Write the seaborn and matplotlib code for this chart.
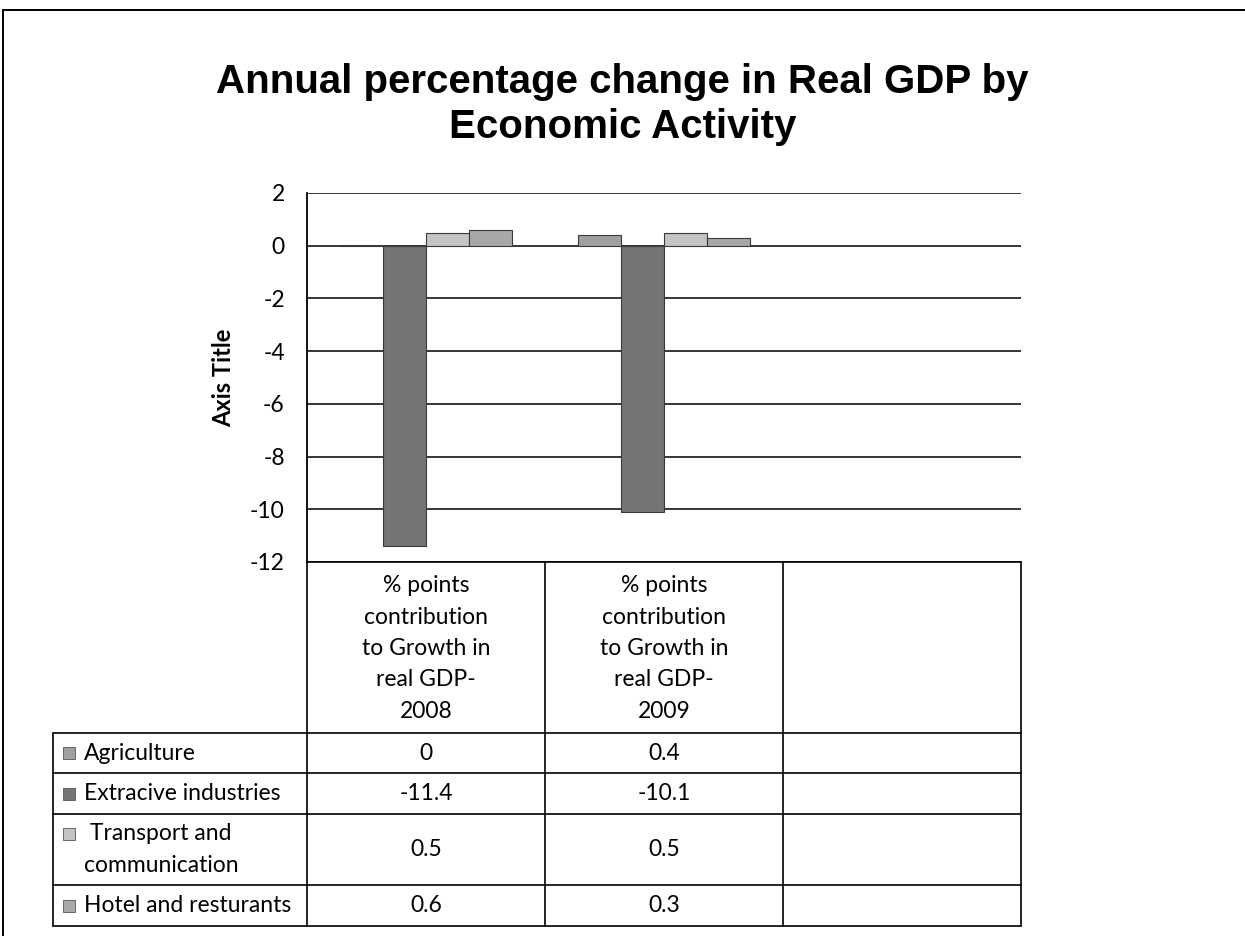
import numpy as np
import pandas as pd
import matplotlib
matplotlib.use("Agg")
import matplotlib.pyplot as plt
from matplotlib.lines import Line2D
from matplotlib.patches import Rectangle
import seaborn as sns

# ---- data -------------------------------------------------------------
sectors = ["Agriculture", "Extracive industries",
           "Transport and communication", "Hotel and resturants"]
sector_labels = ["Agriculture", "Extracive industries",
                 " Transport and\ncommunication", "Hotel and resturants"]
periods = ["% points contribution to Growth in real GDP-2008",
           "% points contribution to Growth in real GDP-2009"]
period_headers = [["% points", "contribution", "to Growth in", "real GDP-", "2008"],
                  ["% points", "contribution", "to Growth in", "real GDP-", "2009"]]
values_2008 = [0, -11.4, 0.5, 0.6]
values_2009 = [0.4, -10.1, 0.5, 0.3]
y_ticks = [2, 0, -2, -4, -6, -8, -10, -12]

colors = ["#a0a0a0", "#757575", "#c4c4c4", "#a8a8a8"]

df = pd.DataFrame({
    "period": [periods[0]] * 4 + [periods[1]] * 4,
    "sector": sectors * 2,
    "value": values_2008 + values_2009,
})

# ---- figure -----------------------------------------------------------
sns.set_theme(style="white")
plt.rcParams["font.family"] = ["Lato", "DejaVu Sans"]
plt.rcParams.update({"text.color": "black", "axes.labelcolor": "black",
                     "xtick.color": "black", "ytick.color": "black"})
FS = 16.5

W, H = 1245, 936
fig = plt.figure(figsize=(W / 100, H / 100), dpi=100)


def fx(x):
    return x / W


def fy(y):
    return 1 - y / H


# plot area in pixel terms
PL, PR, PT, PB = 307, 1021, 193, 562
ax = fig.add_axes([fx(PL), fy(PB), fx(PR) - fx(PL), fy(PT) - fy(PB)])

sns.barplot(data=df, x="period", y="value", hue="sector",
            order=periods + [" "], hue_order=sectors, palette=colors,
            width=0.72, edgecolor="#3a3a3a", linewidth=0.8,
            legend=False, ax=ax)

ax.set_xlim(-0.5, 2.5)
ax.set_ylim(-12, 2)
ax.set_yticks(y_ticks)
ax.set_yticklabels([str(t) for t in y_ticks], fontsize=FS, color="black")
ax.set_xticks([])
ax.set_xlabel("")
ax.set_ylabel("Axis Title", fontsize=17, fontweight="bold", color="black")
ax.yaxis.set_label_coords((235 - PL) / (PR - PL), 0.5)
ax.tick_params(axis="y", length=5, width=1, color="black", pad=11)
ax.grid(axis="y", color="black", linewidth=1.1)
ax.set_axisbelow(True)
for side in ["top", "right", "bottom"]:
    ax.spines[side].set_visible(False)
ax.spines["left"].set_color("black")
ax.spines["left"].set_linewidth(1.3)

# ---- title ------------------------------------------------------------
fig.text(0.5, fy(82), "Annual percentage change in Real GDP by",
         ha="center", va="center", fontsize=29, fontweight="bold",
         family="Liberation Sans", color="black")
fig.text(0.5, fy(127), "Economic Activity",
         ha="center", va="center", fontsize=29, fontweight="bold",
         family="Liberation Sans", color="black")

# ---- data table -------------------------------------------------------
TL = 53
col_edges = [PL, 545, 783, PR]
row_edges = [PB, 733, 773, 814, 885, 926]


def hline(y, x0, x1, lw=1.2):
    fig.add_artist(Line2D([fx(x0), fx(x1)], [fy(y), fy(y)],
                          color="black", linewidth=lw))


def vline(x, y0, y1, lw=1.2):
    fig.add_artist(Line2D([fx(x), fx(x)], [fy(y0), fy(y1)],
                          color="black", linewidth=lw))


hline(row_edges[0], PL, PR)
for y in row_edges[1:]:
    hline(y, TL, PR)
vline(TL, row_edges[1], row_edges[-1])
for x in col_edges:
    vline(x, row_edges[0], row_edges[-1])

# column headers
line_step = 31.5
header_mid = (row_edges[0] + row_edges[1]) / 2 + 1
for c, lines in enumerate(period_headers):
    cx = (col_edges[c] + col_edges[c + 1]) / 2
    n = len(lines)
    for i, line in enumerate(lines):
        y = header_mid + (i - (n - 1) / 2) * line_step
        fig.text(fx(cx), fy(y), line, ha="center", va="center", fontsize=FS)

# rows: legend key, label, values
series_by_period = [values_2008, values_2009]
for r, label in enumerate(sector_labels):
    y0, y1 = row_edges[r + 1], row_edges[r + 2]
    lines = label.split("\n")
    if len(lines) == 1:
        ys = [(y0 + y1) / 2]
    else:
        mid = (y0 + y1) / 2
        ys = [mid - line_step / 2, mid + line_step / 2]
    key_y = ys[0]
    fig.add_artist(Rectangle((fx(63), fy(key_y + 6)), fx(12), 12 / H,
                             facecolor=colors[r], edgecolor="#555555",
                             linewidth=0.6))
    for line, y in zip(lines, ys):
        fig.text(fx(84), fy(y), line, ha="left", va="center", fontsize=FS)
    vy = (y0 + y1) / 2
    for c, vals in enumerate(series_by_period):
        cx = (col_edges[c] + col_edges[c + 1]) / 2
        fig.text(fx(cx), fy(vy), f"{vals[r]:g}", ha="center", va="center",
                 fontsize=FS)

# ---- outer frame ------------------------------------------------------
fig.add_artist(Line2D([fx(3), fx(3)], [fy(10), fy(H)], color="black", linewidth=1.4))
fig.add_artist(Line2D([fx(3), fx(W)], [fy(10), fy(10)], color="black", linewidth=1.4))

fig.savefig("out.png", dpi=100, facecolor="white")
